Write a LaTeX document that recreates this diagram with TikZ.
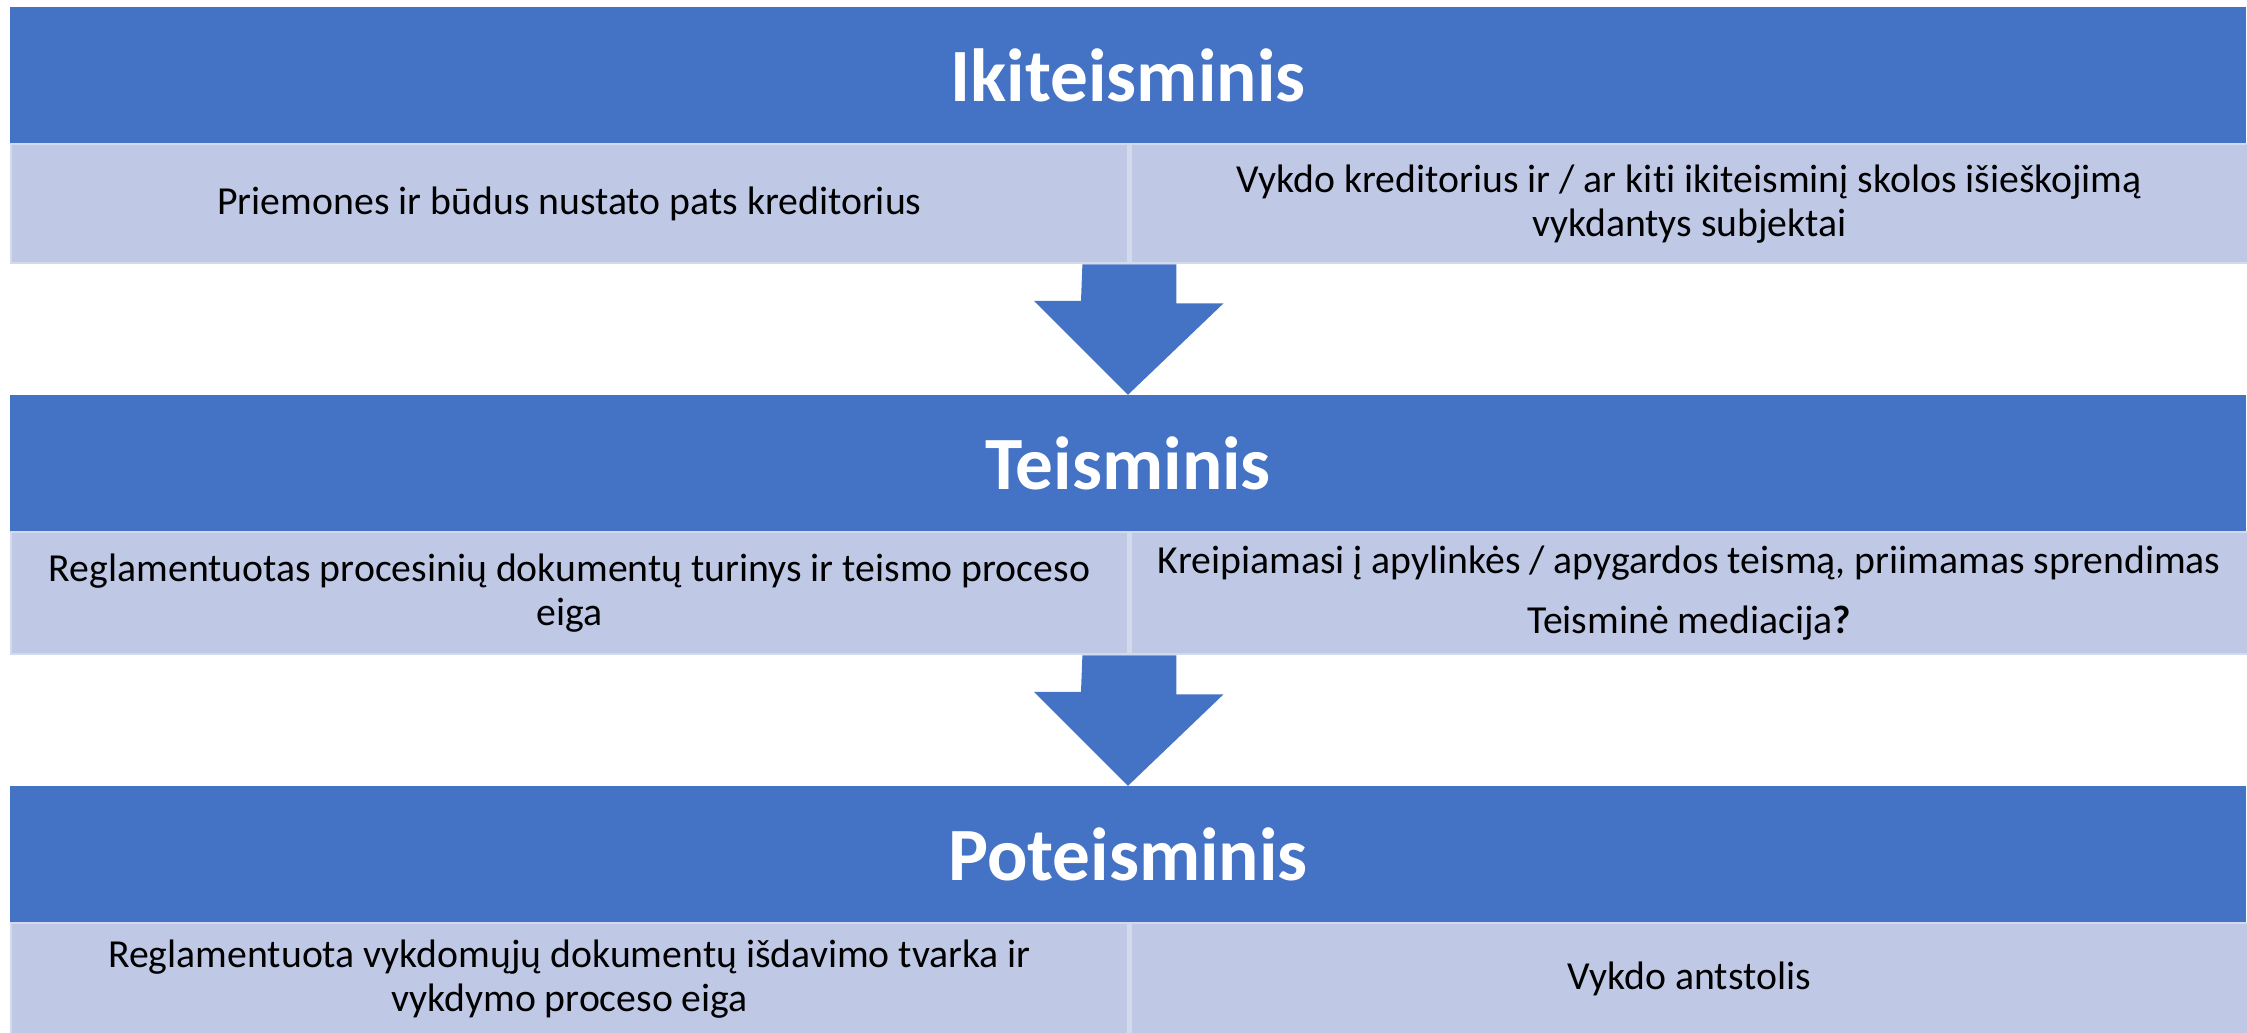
\documentclass[tikz,border=0pt]{standalone}
\usepackage{fontspec}
\setmainfont{Carlito}[Ligatures=CommonOff]
\usetikzlibrary{positioning,calc}
\definecolor{headblue}{RGB}{68,114,196}
\definecolor{cellblue}{RGB}{191,201,230}
\definecolor{celledge}{RGB}{212,218,238}
\begin{document}
\begin{tikzpicture}[x=0.01cm, y=-0.01cm,
  header/.style = {fill=headblue, text=white, minimum width=22.34cm, minimum height=1.35cm,
    inner sep=0pt, font=\fontsize{21.4}{25}\selectfont\bfseries},
  cell/.style = {fill=cellblue, draw=celledge, line width=0.6pt, minimum width=11.17cm,
    inner sep=0pt, align=center, font=\fontsize{11.3}{12.6}\selectfont},
  blockarrow/.style = {fill=headblue}]
\useasboundingbox (0,0) rectangle (2247,1032);
% stage 1
\node[header] (ikit) at (1128,75) {Ikiteisminis};
\node[cell, minimum height=1.19cm, anchor=north west] (ikitL) at (ikit.south west) {Priemones ir būdus nustato pats kreditorius};
\node[cell, minimum height=1.19cm, anchor=north west] (ikitR) at (ikitL.north east) {Vykdo kreditorius ir / ar kiti ikiteisminį skolos išieškojimą\\vykdantys subjektai};
% stage 2
\node[header] (teis) at (1128,463) {Teisminis};
\node[cell, minimum height=1.22cm, anchor=north west] (teisL) at (teis.south west) {Reglamentuotas procesinių dokumentų turinys ir teismo proceso\\eiga};
\node[cell, minimum height=1.22cm, anchor=north west] (teisR) at (teisL.north east) {Kreipiamasi į apylinkės / apygardos teismą, priimamas sprendimas\\[4.5pt]Teisminė mediacija\textbf{?}};
% stage 3
\node[header] (pot) at (1128,854) {Poteisminis};
\node[cell, minimum height=1.11cm, anchor=north west] (potL) at (pot.south west) {Reglamentuota vykdomųjų dokumentų išdavimo tvarka ir\\vykdymo proceso eiga};
\node[cell, minimum height=1.11cm, anchor=north west] (potR) at (potL.north east) {Vykdo antstolis};
% arrows between stages
\fill[blockarrow] ($(ikitL.south east)+(-47,0)$) -- ++(94,0) -- ++(0,39) -- ++(47,0) -- (teis.north) -- ++(-94,-94) -- ++(47,0) -- cycle;
\fill[blockarrow] ($(teisL.south east)+(-47,0)$) -- ++(94,0) -- ++(0,39) -- ++(47,0) -- (pot.north) -- ++(-94,-94) -- ++(47,0) -- cycle;
\end{tikzpicture}
\end{document}
